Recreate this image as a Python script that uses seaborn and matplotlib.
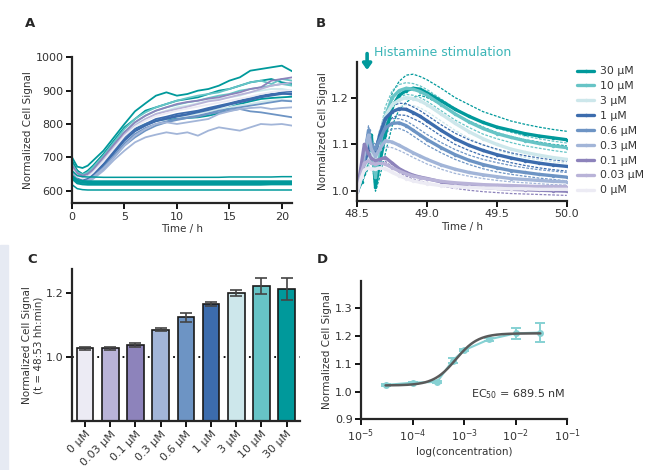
import matplotlib
matplotlib.use("Agg")
import matplotlib.pyplot as plt
import matplotlib.patches as mpatches
import numpy as np
import pandas as pd
import seaborn as sns

sns.set_style("ticks")
plt.rcParams['font.family'] = ['DejaVu Sans']

# concentrations and colours
conc_labels = ["0 µM", "0.03 µM", "0.1 µM", "0.3 µM", "0.6 µM", "1 µM", "3 µM", "10 µM", "30 µM"]
conc_colors = ["#ecebf4", "#b9b3d8", "#8d83bb", "#a2b5d8", "#6d94c4", "#3c6cad", "#cde7eb", "#67c4c6", "#00999b"]
palette = dict(zip(conc_labels, conc_colors))

# ---- panel A: long term traces (hours) ----
time_a = [0, 0.5, 1, 1.5, 2, 3, 4, 5, 6, 7, 8, 9, 10, 11, 12, 13, 14, 15, 16, 17, 18, 19, 20, 21]
traces_a = {
    ("30 µM", 1): [700, 672, 668, 675, 690, 720, 760, 800, 838, 862, 885, 895, 885, 890, 900, 905, 915, 930, 940, 960, 965, 970, 975, 958],
    ("30 µM", 2): [685, 660, 650, 660, 675, 710, 750, 790, 815, 840, 850, 860, 870, 875, 880, 890, 900, 905, 915, 925, 930, 935, 925, 920],
    ("30 µM", 3): [690, 660, 648, 652, 662, 690, 725, 760, 785, 800, 810, 815, 815, 818, 820, 825, 832, 850, 860, 868, 875, 878, 880, 882],
    ("10 µM", 1): [680, 655, 648, 655, 670, 705, 745, 785, 815, 835, 850, 860, 870, 878, 885, 890, 895, 905, 915, 925, 930, 920, 935, 930],
    ("10 µM", 2): [675, 650, 643, 650, 665, 700, 740, 775, 805, 825, 840, 850, 858, 865, 870, 878, 885, 890, 900, 905, 910, 915, 920, 915],
    ("3 µM", 1): [670, 648, 640, 645, 660, 695, 735, 770, 800, 815, 830, 840, 850, 855, 862, 870, 875, 880, 885, 895, 900, 905, 905, 900],
    ("3 µM", 2): [662, 640, 633, 638, 650, 684, 722, 758, 783, 800, 810, 815, 822, 826, 832, 838, 845, 850, 856, 860, 866, 870, 872, 870],
    ("1 µM", 1): [665, 640, 632, 638, 650, 680, 720, 760, 785, 800, 815, 822, 830, 835, 840, 848, 855, 862, 870, 878, 885, 890, 892, 888],
    ("1 µM", 2): [660, 636, 628, 633, 645, 675, 712, 750, 778, 795, 808, 815, 822, 828, 835, 842, 850, 858, 865, 872, 880, 885, 890, 892],
    ("1 µM", 3): [662, 638, 630, 635, 647, 678, 716, 754, 780, 796, 810, 818, 825, 830, 838, 845, 852, 860, 868, 875, 882, 888, 895, 898],
    ("0.6 µM", 1): [655, 632, 625, 630, 642, 670, 705, 742, 770, 788, 800, 808, 815, 820, 825, 832, 840, 845, 850, 855, 860, 865, 870, 868],
    ("0.6 µM", 2): [658, 634, 628, 632, 640, 665, 700, 735, 760, 780, 795, 805, 812, 818, 822, 830, 835, 840, 845, 838, 835, 830, 825, 820],
    ("0.3 µM", 1): [650, 628, 622, 626, 635, 660, 692, 720, 745, 760, 768, 775, 770, 775, 765, 780, 790, 785, 780, 790, 800, 798, 800, 795],
    ("0.3 µM", 2): [652, 630, 625, 630, 640, 667, 700, 735, 765, 785, 800, 805, 800, 805, 810, 815, 830, 838, 845, 848, 850, 845, 848, 850],
    ("0.1 µM", 1): [675, 652, 645, 650, 663, 700, 738, 775, 805, 825, 840, 850, 860, 866, 870, 876, 880, 888, 895, 905, 910, 930, 935, 940],
    ("0.03 µM", 1): [668, 645, 638, 643, 656, 690, 730, 768, 795, 815, 830, 838, 845, 852, 860, 868, 872, 880, 888, 895, 905, 915, 920, 925],
    ("0 µM", 1): [664, 642, 636, 641, 654, 688, 726, 764, 792, 810, 824, 832, 840, 846, 852, 858, 864, 870, 876, 882, 890, 896, 900, 902],
}
# cell-free wells, flat
flat_a = {
    1: [660, 645, 642, 641, 641, 640, 640, 640, 640, 640, 640, 640, 640, 640, 640, 640, 640, 641, 641, 641, 641, 641, 642, 642],
    2: [645, 632, 629, 628, 628, 628, 628, 628, 628, 628, 628, 628, 628, 628, 628, 628, 628, 628, 628, 628, 628, 628, 628, 628],
    3: [640, 627, 624, 623, 623, 623, 623, 623, 623, 623, 623, 623, 623, 623, 623, 623, 623, 623, 623, 623, 623, 623, 623, 623],
    4: [636, 622, 619, 618, 618, 618, 618, 618, 618, 618, 618, 618, 618, 618, 618, 618, 618, 618, 618, 618, 618, 619, 619, 619],
    5: [618, 606, 603, 602, 602, 602, 602, 602, 602, 602, 602, 602, 602, 602, 602, 602, 602, 602, 602, 602, 602, 602, 602, 602],
}

# ---- panel B: histamine response ----
time_b = [48.5, 48.53, 48.55, 48.58, 48.6, 48.63, 48.66, 48.7, 48.75, 48.8, 48.85, 48.9, 48.95,
          49.0, 49.1, 49.2, 49.3, 49.4, 49.5, 49.6, 49.7, 49.8, 49.9, 50.0]
mean_b = {
    "30 µM": [1.0, 1.02, 1.04, 1.07, 1.12, 1.01, 1.06, 1.12, 1.18, 1.205, 1.215, 1.22, 1.218, 1.21, 1.193, 1.175, 1.16, 1.147, 1.137, 1.13, 1.123, 1.118, 1.114, 1.11],
    "10 µM": [1.0, 1.03, 1.05, 1.08, 1.09, 1.03, 1.10, 1.16, 1.20, 1.215, 1.22, 1.218, 1.213, 1.205, 1.185, 1.165, 1.148, 1.134, 1.123, 1.115, 1.108, 1.102, 1.097, 1.093],
    "3 µM": [1.0, 1.03, 1.05, 1.07, 1.08, 1.06, 1.12, 1.16, 1.185, 1.195, 1.2, 1.198, 1.193, 1.185, 1.165, 1.145, 1.127, 1.112, 1.10, 1.09, 1.083, 1.077, 1.072, 1.068],
    "1 µM": [1.0, 1.04, 1.06, 1.09, 1.1, 1.08, 1.12, 1.155, 1.17, 1.176, 1.175, 1.168, 1.16, 1.15, 1.13, 1.112, 1.098, 1.087, 1.078, 1.071, 1.065, 1.06, 1.056, 1.053],
    "0.6 µM": [1.0, 1.05, 1.07, 1.13, 1.10, 1.09, 1.11, 1.135, 1.145, 1.146, 1.14, 1.13, 1.12, 1.11, 1.093, 1.078, 1.066, 1.057, 1.05, 1.044, 1.04, 1.036, 1.033, 1.03],
    "0.3 µM": [1.0, 1.05, 1.08, 1.12, 1.09, 1.075, 1.09, 1.108, 1.105, 1.098, 1.09, 1.082, 1.075, 1.068, 1.056, 1.047, 1.04, 1.035, 1.031, 1.027, 1.025, 1.023, 1.021, 1.02],
    "0.1 µM": [1.0, 1.06, 1.10, 1.08, 1.07, 1.065, 1.068, 1.072, 1.06, 1.048, 1.04, 1.034, 1.03, 1.027, 1.02, 1.015, 1.011, 1.008, 1.006, 1.004, 1.003, 1.002, 1.001, 1.0],
    "0.03 µM": [1.0, 1.04, 1.06, 1.065, 1.06, 1.058, 1.06, 1.058, 1.05, 1.043, 1.037, 1.032, 1.029, 1.026, 1.021, 1.018, 1.016, 1.014, 1.013, 1.012, 1.011, 1.01, 1.01, 1.01],
    "0 µM": [1.0, 1.03, 1.045, 1.05, 1.048, 1.047, 1.05, 1.048, 1.04, 1.033, 1.027, 1.022, 1.019, 1.016, 1.012, 1.01, 1.008, 1.007, 1.006, 1.005, 1.005, 1.004, 1.004, 1.004],
}
# single wells (dashed)
wells_b = {
    ("30 µM", "hi"): [1.0, 1.02, 1.04, 1.06, 1.10, 1.03, 1.08, 1.15, 1.21, 1.235, 1.248, 1.25, 1.245, 1.238, 1.22, 1.2, 1.185, 1.17, 1.16, 1.15, 1.143, 1.137, 1.132, 1.128],
    ("30 µM", "lo"): [1.0, 1.02, 1.03, 1.05, 1.08, 1.0, 1.03, 1.08, 1.14, 1.175, 1.19, 1.2, 1.205, 1.2, 1.185, 1.165, 1.15, 1.137, 1.125, 1.117, 1.11, 1.105, 1.1, 1.097],
    ("10 µM", "hi"): [1.0, 1.03, 1.05, 1.09, 1.1, 1.05, 1.12, 1.18, 1.215, 1.228, 1.232, 1.23, 1.225, 1.217, 1.197, 1.177, 1.16, 1.146, 1.135, 1.126, 1.118, 1.112, 1.107, 1.103],
    ("10 µM", "lo"): [1.0, 1.03, 1.05, 1.07, 1.08, 1.02, 1.08, 1.14, 1.185, 1.2, 1.207, 1.205, 1.2, 1.192, 1.172, 1.152, 1.136, 1.122, 1.112, 1.104, 1.097, 1.092, 1.087, 1.083],
    ("3 µM", "lo"): [1.0, 1.03, 1.05, 1.06, 1.07, 1.05, 1.1, 1.14, 1.168, 1.18, 1.185, 1.183, 1.178, 1.17, 1.15, 1.13, 1.113, 1.099, 1.088, 1.079, 1.072, 1.067, 1.063, 1.06],
    ("1 µM", "hi"): [1.0, 1.04, 1.06, 1.09, 1.1, 1.09, 1.13, 1.165, 1.182, 1.188, 1.187, 1.18, 1.172, 1.162, 1.142, 1.124, 1.11, 1.099, 1.09, 1.082, 1.076, 1.071, 1.067, 1.064],
    ("1 µM", "lo"): [1.0, 1.04, 1.06, 1.08, 1.09, 1.07, 1.1, 1.14, 1.157, 1.163, 1.162, 1.155, 1.148, 1.138, 1.118, 1.1, 1.087, 1.076, 1.068, 1.061, 1.055, 1.05, 1.046, 1.043],
    ("0.6 µM", "hi"): [1.0, 1.05, 1.08, 1.14, 1.11, 1.1, 1.12, 1.145, 1.155, 1.155, 1.15, 1.141, 1.131, 1.121, 1.104, 1.089, 1.077, 1.068, 1.061, 1.055, 1.05, 1.046, 1.043, 1.04],
    ("0.6 µM", "lo"): [1.0, 1.05, 1.06, 1.11, 1.09, 1.08, 1.1, 1.125, 1.133, 1.134, 1.128, 1.118, 1.108, 1.098, 1.082, 1.068, 1.057, 1.048, 1.041, 1.036, 1.032, 1.028, 1.025, 1.022],
    ("0.3 µM", "lo"): [1.0, 1.05, 1.07, 1.1, 1.08, 1.07, 1.08, 1.095, 1.093, 1.087, 1.08, 1.072, 1.065, 1.058, 1.047, 1.038, 1.032, 1.027, 1.023, 1.02, 1.018, 1.016, 1.014, 1.013],
    ("0.1 µM", "lo"): [1.0, 1.05, 1.08, 1.07, 1.06, 1.058, 1.06, 1.064, 1.052, 1.04, 1.032, 1.026, 1.022, 1.018, 1.011, 1.006, 1.002, 0.999, 0.997, 0.995, 0.994, 0.993, 0.992, 0.991],
}

# ---- panel C: signal at t = 48:53 ----
bar_values = [1.027, 1.027, 1.037, 1.085, 1.124, 1.166, 1.200, 1.223, 1.213]
bar_errors = [0.005, 0.005, 0.006, 0.005, 0.015, 0.005, 0.009, 0.026, 0.035]

# ---- panel D: dose response (mM) ----
dose_conc = [3e-5, 1e-4, 3e-4, 6e-4, 1e-3, 3e-3, 1e-2, 3e-2]
dose_values = [1.024, 1.032, 1.035, 1.112, 1.149, 1.188, 1.210, 1.213]
dose_errors = [0.003, 0.003, 0.004, 0.010, 0.004, 0.004, 0.020, 0.034]
fit_bottom, fit_top, fit_ec50, fit_hill = 1.022, 1.210, 6.895e-4, 2.0

teal = "#00999b"
fs_tick = 8
fs_lab = 7.5

fig = plt.figure(figsize=(6.51, 4.70), dpi=100)
fig.patches.append(mpatches.Rectangle((0, 0), 8 / 651, 225 / 470, transform=fig.transFigure,
                                      color="#e6eaf3", zorder=0))

ax_a = fig.add_axes([0.1106, 0.5674, 0.3384, 0.3106])
ax_b = fig.add_axes([0.5489, 0.5723, 0.3217, 0.2957])
ax_c = fig.add_axes([0.1106, 0.1049, 0.3502, 0.3228])
ax_d = fig.add_axes([0.5545, 0.1079, 0.3169, 0.2949])


def style_axes(ax):
    sns.despine(ax=ax)
    for s in ("left", "bottom"):
        ax.spines[s].set_linewidth(1.6)
    ax.tick_params(width=1.3, length=4, labelsize=fs_tick, colors="#333333", pad=2)
    ax.tick_params(axis="both", color="black")


# A
for (lab, rep), vals in traces_a.items():
    sns.lineplot(x=time_a, y=vals, ax=ax_a, color=palette[lab], lw=1.3, legend=False)
for k, vals in flat_a.items():
    sns.lineplot(x=time_a, y=vals, ax=ax_a, color=teal, lw=1.5 if k in (2, 3, 4) else 1.1, legend=False)
ax_a.set_xlim(0, 21)
ax_a.set_ylim(562, 1000)
ax_a.set_xticks([0, 5, 10, 15, 20])
ax_a.set_yticks([600, 700, 800, 900, 1000])
ax_a.set_xlabel("Time / h", fontsize=fs_lab, color="#333333", labelpad=2)
ax_a.set_ylabel("Normalized Cell Signal", fontsize=fs_lab, color="#333333", labelpad=2)
style_axes(ax_a)

# B
for (lab, rep), vals in wells_b.items():
    ax_b.plot(time_b, vals, color=palette[lab], lw=0.9, ls=(0, (2.2, 1.2)))
long_b = pd.DataFrame([(t, v, lab) for lab, vals in mean_b.items() for t, v in zip(time_b, vals)],
                      columns=["time", "signal", "conc"])
sns.lineplot(data=long_b, x="time", y="signal", hue="conc", hue_order=conc_labels[::-1],
             palette=palette, lw=2.4, marker="o", markersize=2.5, markeredgewidth=0, ax=ax_b)
ax_b.set_xlim(48.5, 50.0)
ax_b.set_ylim(0.979, 1.276)
ax_b.set_xticks([48.5, 49.0, 49.5, 50.0])
ax_b.set_xticklabels(["48.5", "49.0", "49.5", "50.0"])
ax_b.set_yticks([1.0, 1.1, 1.2])
ax_b.set_xlabel("Time / h", fontsize=fs_lab, color="#333333", labelpad=2)
ax_b.set_ylabel("Normalized Cell Signal", fontsize=fs_lab, color="#333333", labelpad=2)
style_axes(ax_b)
leg = ax_b.legend(loc="upper left", bbox_to_anchor=(1.03, 1.0), frameon=False, fontsize=7.8,
                  handlelength=1.5, labelspacing=0.45, borderaxespad=0, handletextpad=0.6)
for t in leg.get_texts():
    t.set_color("#333333")
ax_b.annotate("", xy=(48.57, 1.253), xytext=(48.57, 1.300),
              arrowprops=dict(arrowstyle="-|>,head_width=0.25,head_length=0.35", lw=2.6, color=teal),
              annotation_clip=False)
ax_b.text(48.62, 1.297, "Histamine stimulation", color="#3bb5b7", fontsize=9, va="center",
          clip_on=False)

# C
df_c = pd.DataFrame({"conc": conc_labels, "signal": bar_values})
sns.barplot(data=df_c, x="conc", y="signal", hue="conc", palette=palette, errorbar=None,
            width=0.66, edgecolor="#1a1a1a", linewidth=1.2, legend=False, ax=ax_c,
            saturation=1)
ax_c.errorbar(range(len(conc_labels)), bar_values, yerr=bar_errors, fmt="none",
              ecolor="#444444", elinewidth=1.2, capsize=4, capthick=1.2)
ax_c.axhline(1.0, color="black", ls=(0, (1, 2.5)), lw=1.3, zorder=0)
ax_c.set_ylim(0.8, 1.276)
ax_c.set_xlim(-0.52, 8.53)
ax_c.set_yticks([1.0, 1.2])
ax_c.set_xlabel("")
ax_c.set_ylabel("Normalized Cell Signal\n(t = 48:53 hh:min)", fontsize=fs_lab, color="#333333",
                labelpad=2, linespacing=1.1)
style_axes(ax_c)
ax_c.set_xticks(range(len(conc_labels)))
ax_c.set_xticklabels(conc_labels, rotation=45, ha="right", rotation_mode="anchor", fontsize=fs_tick)

# D
light_teal = "#86d1d3"
sns.lineplot(x=dose_conc, y=dose_values, ax=ax_d, color=light_teal, lw=1.5, marker="o",
             markersize=5, markeredgewidth=0, legend=False)
ax_d.errorbar(dose_conc, dose_values, yerr=dose_errors, fmt="none", ecolor=light_teal,
              elinewidth=1.4, capsize=3.5, capthick=1.4)
x_fit = np.logspace(np.log10(dose_conc[0]), np.log10(dose_conc[-1]), 200)
y_fit = fit_bottom + (fit_top - fit_bottom) / (1 + (fit_ec50 / x_fit) ** fit_hill)
sns.lineplot(x=x_fit, y=y_fit, ax=ax_d, color="#5a5a5a", lw=1.8, legend=False)
ax_d.set_xscale("log")
ax_d.set_xlim(1e-5, 1e-1)
ax_d.set_ylim(0.9, 1.4)
ax_d.set_xticks([1e-5, 1e-4, 1e-3, 1e-2, 1e-1])
ax_d.minorticks_off()
ax_d.set_yticks([0.9, 1.0, 1.1, 1.2, 1.3])
ax_d.set_xlabel("log(concentration)", fontsize=fs_lab, color="#333333", labelpad=2)
ax_d.set_ylabel("Normalized Cell Signal", fontsize=fs_lab, color="#333333", labelpad=2)
style_axes(ax_d)
ax_d.text(0.99, 0.18, "EC$_{50}$ = 689.5 nM", transform=ax_d.transAxes, ha="right", va="center",
          fontsize=fs_tick, color="#333333")

# panel letters
for lab, x, y in [("A", 0.046, 0.951), ("B", 0.493, 0.951), ("C", 0.049, 0.447), ("D", 0.495, 0.447)]:
    fig.text(x, y, lab, fontsize=9.5, fontweight="bold", ha="center", va="center")

fig.savefig("out.png", dpi=100)
